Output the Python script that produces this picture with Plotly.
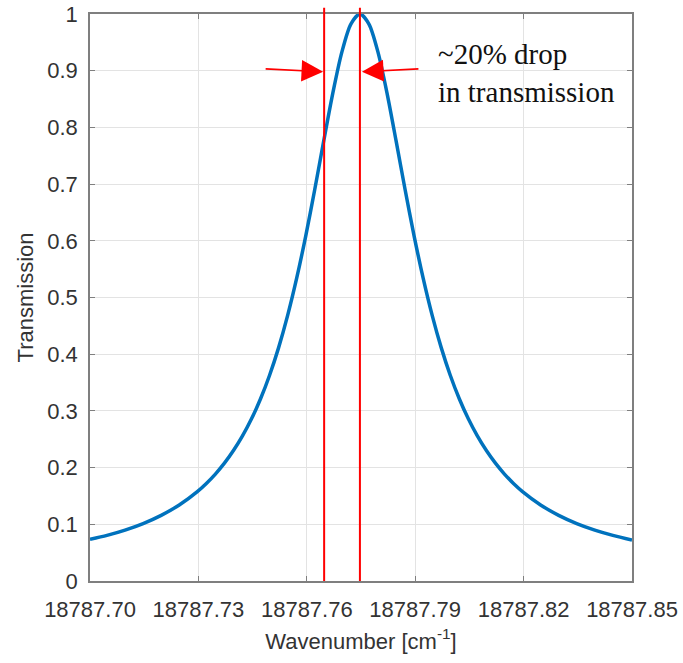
import plotly.graph_objects as go

# Transmission curve
wavenumber = [18787.7000, 18787.7047, 18787.7097, 18787.7147, 18787.7197, 18787.7247,
              18787.7297, 18787.7322, 18787.7347, 18787.7372, 18787.7397, 18787.7422,
              18787.7447, 18787.7472,
              18787.7497, 18787.7522, 18787.7547, 18787.7572, 18787.7597, 18787.7622,
              18787.7647, 18787.7672, 18787.7697, 18787.7722, 18787.7747,
              18787.7772, 18787.7797, 18787.7822, 18787.7847, 18787.7872, 18787.7897,
              18787.7922, 18787.7947, 18787.7972, 18787.7997, 18787.8022, 18787.8047,
              18787.8072, 18787.8097, 18787.8122, 18787.8147, 18787.8172, 18787.8197,
              18787.8247, 18787.8297, 18787.8347, 18787.8397, 18787.8447, 18787.8500]
transmission = [0.0735, 0.0805, 0.0898, 0.1013, 0.1158, 0.1341,
                0.1577, 0.1721, 0.1886, 0.2078, 0.2300, 0.2558,
                0.2860, 0.3214,
                0.3629, 0.4116, 0.4684, 0.5340, 0.6084, 0.6904,
                0.7766, 0.8605, 0.9327, 0.9823, 1.0000,
                0.9823, 0.9327, 0.8605, 0.7766, 0.6904, 0.6084,
                0.5340, 0.4684, 0.4116, 0.3629, 0.3214, 0.2860,
                0.2558, 0.2300, 0.2078, 0.1886, 0.1721, 0.1577,
                0.1341, 0.1158, 0.1013, 0.0898, 0.0805, 0.0723]

# Red marker lines (wavenumber positions)
marker_lines = [18787.7648, 18787.7747]

x_tickvals = [18787.70, 18787.73, 18787.76, 18787.79, 18787.82, 18787.85]
x_ticktext = ["18787.70", "18787.73", "18787.76", "18787.79", "18787.82", "18787.85"]
y_tickvals = [0, 0.1, 0.2, 0.3, 0.4, 0.5, 0.6, 0.7, 0.8, 0.9, 1]
y_ticktext = ["0", "0.1", "0.2", "0.3", "0.4", "0.5", "0.6", "0.7", "0.8", "0.9", "1"]

annotation_text = "~20% drop<br>in transmission"

fig = go.Figure()
fig.add_trace(go.Scatter(
    x=wavenumber, y=transmission, mode="lines",
    line=dict(color="#0072BD", width=3.5, shape="spline", smoothing=0.8),
    showlegend=False, hoverinfo="skip"))

for xv in marker_lines:
    fig.add_shape(type="line", xref="x", yref="paper", x0=xv, x1=xv, y0=0, y1=1.011,
                  line=dict(color="#FF0000", width=2), layer="above")

# arrows
fig.add_annotation(x=marker_lines[0], y=0.898, xref="x", yref="y", ax=-60, ay=-3,
                   showarrow=True, arrowhead=2, arrowsize=2.7, arrowwidth=1.6,
                   arrowcolor="#FF0000", text="", standoff=1)
fig.add_annotation(x=marker_lines[1], y=0.898, xref="x", yref="y", ax=60, ay=-3,
                   showarrow=True, arrowhead=2, arrowsize=2.7, arrowwidth=1.6,
                   arrowcolor="#FF0000", text="", standoff=2)
fig.add_annotation(x=18787.7957, y=0.896, xref="x", yref="y", text=annotation_text,
                   showarrow=False, xanchor="left", yanchor="middle", align="left",
                   font=dict(family="Liberation Serif", size=29, color="#111111"))

axis_common = dict(
    showline=True, linecolor="#7f7f7f", linewidth=1.5, mirror="ticks",
    ticks="inside", ticklen=5, tickcolor="#7f7f7f", tickwidth=1,
    showgrid=True, gridcolor="#e3e3e3", gridwidth=1, zeroline=False,
    automargin=False,
    tickfont=dict(family="Liberation Sans", size=22, color="#333333"),
)

fig.update_layout(
    width=683, height=663,
    margin=dict(l=90, r=51, t=14, b=82),
    paper_bgcolor="white", plot_bgcolor="white",
    xaxis=dict(range=[18787.70, 18787.85], tickvals=x_tickvals, ticktext=x_ticktext,
               ticklabelstandoff=8,
               title=dict(text="Wavenumber [cm<sup>-1</sup>]", standoff=12,
                          font=dict(family="Liberation Sans", size=22, color="#333333")),
               **axis_common),
    yaxis=dict(range=[0, 1], tickvals=y_tickvals, ticktext=y_ticktext,
               ticklabelstandoff=6,
               title=dict(text="Transmission", standoff=8,
                          font=dict(family="Liberation Sans", size=22, color="#333333")),
               **axis_common),
)

fig.write_html("out.html")
